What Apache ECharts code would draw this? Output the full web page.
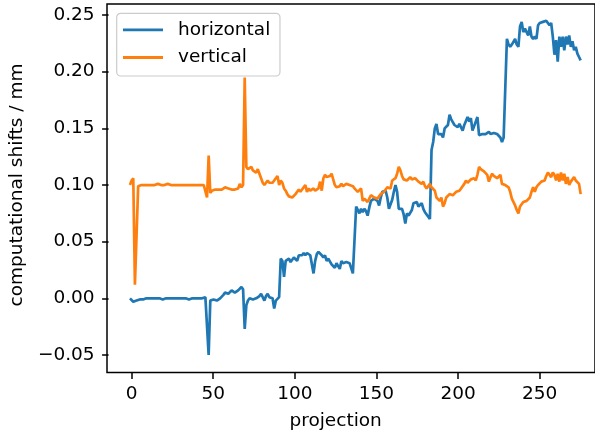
<!DOCTYPE html>
<html>
<head>
<meta charset="utf-8">
<script src="https://cdn.jsdelivr.net/npm/echarts@6/dist/echarts.min.js"></script>
<style>
html,body{margin:0;padding:0;background:#fff;}
#chart{width:595px;height:436px;}
</style>
</head>
<body>
<div id="chart"></div>
<script>
const seriesNames = ['horizontal', 'vertical'];
const xTicks = [0, 50, 100, 150, 200, 250];
const yTicks = [-0.05, 0.00, 0.05, 0.10, 0.15, 0.20, 0.25];

const horizontal = [
 0.000,-0.001,-0.003,-0.004,-0.002,-0.001,-0.001,0.000,-0.001,0.000,
 0.000,-0.001,0.000,0.000,0.000,-0.001,0.000,0.000,0.000,0.000,
 -0.001,0.000,0.000,0.000,0.000,0.000,0.000,-0.001,0.000,0.000,
 0.000,0.000,0.000,0.000,0.000,0.000,-0.001,0.000,0.000,0.000,
 0.000,0.000,0.000,0.000,0.000,0.001,0.001,0.000,-0.050,
 -0.002,-0.002,-0.001,-0.001,-0.002,-0.002,0.000,0.001,0.003,0.005,
 0.005,0.004,0.005,0.007,0.006,0.005,0.006,0.007,0.006,0.010,
 0.008,-0.027,-0.006,-0.002,0.000,0.000,-0.001,-0.002,0.000,-0.001,
 0.002,0.004,0.005,-0.002,0.002,0.004,0.001,0.001,0.000,-0.009,
 -0.002,-0.002,0.001,0.035,0.033,0.019,0.033,0.034,0.035,0.032,
 0.032,0.036,0.036,0.033,0.038,0.039,0.038,0.040,0.038,0.040,
 0.041,0.038,0.038,0.022,0.033,0.039,0.041,0.042,0.038,0.036,
 0.038,0.033,0.035,0.035,0.030,0.029,0.027,0.031,0.032,0.026,
 0.033,0.031,0.030,0.032,0.033,0.031,0.030,0.022,0.021,0.081,
 0.082,0.075,0.079,0.076,0.079,0.077,0.073,0.080,0.086,0.087,
 0.088,0.088,0.086,0.082,0.089,0.094,0.094,0.095,0.089,0.079,
 0.080,0.087,0.094,0.100,0.094,0.079,0.078,0.079,0.074,0.066,
 0.075,0.073,0.073,0.078,0.084,0.085,0.085,0.081,0.082,0.084,
 0.079,0.076,0.075,0.072,0.070,0.131,0.138,0.150,0.154,0.145,
 0.144,0.145,0.142,0.150,0.151,0.153,0.162,0.158,0.159,0.153,
 0.152,0.151,0.154,0.154,0.148,0.153,0.154,0.160,0.156,0.159,
 0.148,0.152,0.153,0.160,0.144,0.145,0.145,0.144,0.145,0.144,
 0.147,0.145,0.145,0.146,0.147,0.145,0.144,0.142,0.138,0.142,
 0.143,0.229,0.224,0.222,0.224,0.225,0.229,0.224,0.222,0.240,
 0.244,0.235,0.238,0.235,0.232,0.240,0.231,0.229,0.231,0.229,
 0.241,0.243,0.243,0.244,0.245,0.245,0.244,0.241,0.243,0.231,
 0.215,0.228,0.209,0.231,0.222,0.231,0.219,0.231,0.224,0.232,
 0.222,0.227,0.219,0.222,0.216,0.213,0.210
];

const vertical = [
 0.100,0.104,0.106,0.012,0.011,0.099,0.100,0.100,0.101,0.100,
 0.100,0.100,0.101,0.100,0.100,0.100,0.100,0.101,0.100,0.100,
 0.100,0.100,0.100,0.101,0.100,0.100,0.099,0.100,0.101,0.100,
 0.100,0.100,0.100,0.100,0.101,0.100,0.100,0.100,0.100,0.100,
 0.100,0.100,0.101,0.100,0.100,0.100,0.100,0.089,0.126,
 0.093,0.095,0.096,0.096,0.095,0.096,0.095,0.096,0.097,0.098,
 0.099,0.097,0.096,0.096,0.097,0.096,0.095,0.097,0.101,0.098,
 0.100,0.195,0.116,0.114,0.114,0.116,0.113,0.113,0.111,0.114,
 0.110,0.106,0.102,0.100,0.101,0.104,0.102,0.101,0.102,0.104,
 0.104,0.108,0.100,0.104,0.102,0.097,0.095,0.092,0.090,0.089,
 0.089,0.090,0.092,0.093,0.096,0.094,0.096,0.097,0.100,0.094,
 0.097,0.095,0.096,0.097,0.095,0.095,0.097,0.103,0.095,0.106,
 0.109,0.107,0.108,0.108,0.110,0.105,0.100,0.098,0.098,0.099,
 0.101,0.099,0.100,0.101,0.102,0.100,0.100,0.099,0.097,0.096,
 0.094,0.095,0.097,0.086,0.088,0.087,0.085,0.088,0.091,0.091,
 0.089,0.089,0.088,0.090,0.092,0.093,0.094,0.096,0.098,0.097,
 0.097,0.104,0.103,0.106,0.110,0.116,0.113,0.108,0.105,0.104,
 0.104,0.105,0.107,0.105,0.104,0.106,0.106,0.103,0.103,0.101,
 0.103,0.099,0.097,0.099,0.101,0.098,0.097,0.095,0.089,0.088,
 0.086,0.089,0.081,0.084,0.089,0.090,0.092,0.091,0.091,0.092,
 0.094,0.094,0.095,0.097,0.098,0.101,0.104,0.102,0.103,0.105,
 0.106,0.106,0.104,0.109,0.116,0.114,0.113,0.112,0.111,0.109,
 0.103,0.107,0.110,0.108,0.108,0.106,0.106,0.109,0.101,0.101,
 0.100,0.099,0.098,0.094,0.088,0.089,0.082,0.078,0.075,0.081,
 0.082,0.085,0.084,0.086,0.085,0.089,0.094,0.098,0.094,0.098,
 0.100,0.101,0.103,0.102,0.104,0.108,0.111,0.110,0.107,0.111,
 0.109,0.104,0.110,0.103,0.111,0.104,0.110,0.101,0.107,0.100,
 0.103,0.104,0.107,0.104,0.104,0.101,0.092
];

const FONT = 'DejaVu Sans';
const FS = 18.5;
const toPairs = arr => arr.map((v, i) => [i, v]);
const fmtY = v => (v < 0 ? '\u2212' : '') + Math.abs(v).toFixed(2);

const chart = echarts.init(document.getElementById('chart'), null, {renderer: 'canvas'});
chart.setOption({
  animation: false,
  backgroundColor: '#ffffff',
  textStyle: {fontFamily: FONT},
  grid: [
    {left: 107, top: 4, width: 488, height: 368.4, show: true, borderColor: '#000', borderWidth: 1.5, backgroundColor: 'transparent'},
    {left: 130, top: 15, width: 409.7, height: 340, show: false}
  ],
  xAxis: [
    {type: 'value', gridIndex: 0, min: -14.03, max: -14.03 + 488 / 1.6388,
     axisLine: {show: false, onZero: false}, axisTick: {show: false}, axisLabel: {show: false}, splitLine: {show: false}},
    {type: 'value', gridIndex: 1, min: xTicks[0], max: xTicks[xTicks.length - 1], interval: xTicks[1] - xTicks[0],
     position: 'bottom', offset: 17.4,
     axisLine: {show: false, onZero: false}, splitLine: {show: false},
     axisTick: {show: true, inside: false, length: 6.5, lineStyle: {color: '#000', width: 1.5}},
     axisLabel: {show: true, color: '#000', fontFamily: FONT, fontSize: FS, margin: 12.5},
     name: 'projection', nameLocation: 'middle', nameGap: 39,
     nameTextStyle: {color: '#000', fontFamily: FONT, fontSize: FS}}
  ],
  yAxis: [
    {type: 'value', gridIndex: 0, min: -0.0654, max: 0.2598,
     axisLine: {show: false, onZero: false}, axisTick: {show: false}, axisLabel: {show: false}, splitLine: {show: false}},
    {type: 'value', gridIndex: 1, min: yTicks[0], max: yTicks[yTicks.length - 1], interval: 0.05,
     position: 'left', offset: 23,
     axisLine: {show: false, onZero: false}, splitLine: {show: false},
     axisTick: {show: true, inside: false, length: 6.5, lineStyle: {color: '#000', width: 1.5}},
     axisLabel: {show: true, color: '#000', fontFamily: FONT, fontSize: FS, margin: 14, formatter: fmtY},
     name: 'computational shifts / mm', nameLocation: 'middle', nameGap: 71,
     nameTextStyle: {color: '#000', fontFamily: FONT, fontSize: FS}}
  ],
  legend: {
    orient: 'vertical', left: 116.7, top: 13.3,
    data: seriesNames,
    icon: 'rect', itemWidth: 40, itemHeight: 2.8, itemGap: 8.7,
    padding: [7, 9.7, 9, 6.3],
    backgroundColor: 'rgba(255,255,255,0.8)',
    borderColor: '#cccccc', borderWidth: 1.2, borderRadius: 4,
    textStyle: {color: '#000', fontFamily: FONT, fontSize: FS, lineHeight: 18, padding: [0, 0, 0, 10]}
  },
  series: [
    {name: seriesNames[0], type: 'line', xAxisIndex: 0, yAxisIndex: 0, data: toPairs(horizontal),
     symbol: 'none', color: '#1f77b4', lineStyle: {width: 2.7, color: '#1f77b4'}, z: 2},
    {name: seriesNames[1], type: 'line', xAxisIndex: 0, yAxisIndex: 0, data: toPairs(vertical),
     symbol: 'none', color: '#ff7f0e', lineStyle: {width: 2.7, color: '#ff7f0e'}, z: 3}
  ]
});
</script>
</body>
</html>
